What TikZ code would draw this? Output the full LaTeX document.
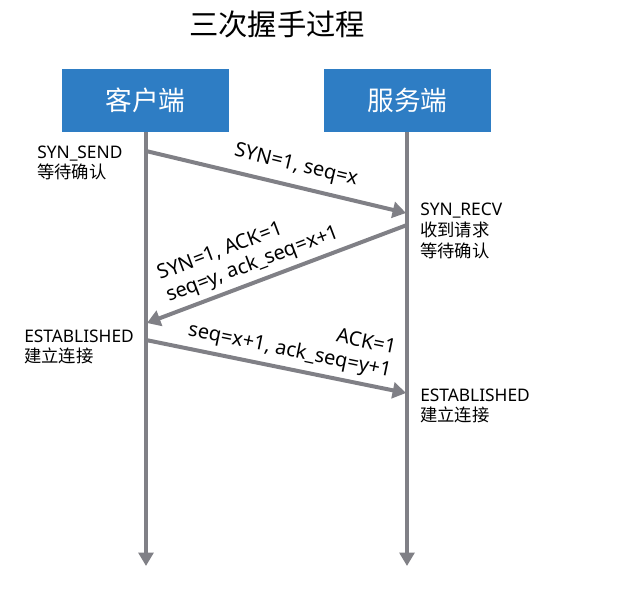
\documentclass[tikz,border=0pt]{standalone}
\usepackage{fontspec}
\setmainfont{Noto Sans}
\newfontfamily\cjk{Noto Sans CJK SC}
\usetikzlibrary{arrows.meta}
\definecolor{boxblue}{RGB}{46,125,196}
\definecolor{linegray}{RGB}{128,128,134}
\tikzset{
  hostbox/.style={fill=boxblue, text=white, minimum width=125pt, minimum height=47pt, inner sep=0pt, font=\cjk\fontsize{20}{24}\selectfont},
  lifeline/.style={draw=linegray, line width=3pt, -{Triangle[length=10pt,width=11pt]}},
  msg/.style={draw=linegray, line width=3pt, -{Triangle[length=10pt,width=12pt]}},
  statelabel/.style={anchor=west, align=left, inner sep=0pt, font=\fontsize{13}{15}\selectfont},
  msglabel/.style={inner sep=0pt, font=\fontsize{15}{17.5}\selectfont}
}
\begin{document}
\begin{tikzpicture}[x=0.75pt,y=0.75pt,yscale=-1,xscale=1]
\useasboundingbox (0,0) rectangle (640,590);

% Text Node
\draw (277,24) node (title) [font=\cjk\fontsize{22}{26}\selectfont] {三次握手过程};

%Shape: Rectangle
\draw (145.5,100.5) node (client) [hostbox] {客户端};
%Shape: Rectangle
\draw (407.5,100.5) node (server) [hostbox] {服务端};

% lifelines
\coordinate (cend) at (146,566);
\coordinate (send) at (407,566);
\draw [lifeline] (client.south -| cend) -- (cend);
\draw [lifeline] (server.south -| send) -- (send);

% message ends
\coordinate (c1) at (146,151);
\coordinate (s1) at (406,213);
\coordinate (s2) at (407,225);
\coordinate (c2) at (147,323);
\coordinate (c3) at (146,340);
\coordinate (s3) at (406,393);

\draw [msg] (c1) -- (s1);
\draw [msg] (s2) -- (c2);
\draw [msg] (c3) -- (s3);

% Text Node
\draw (37,163) node (synsend) [statelabel] {SYN\_SEND\\{\cjk 等待确认}};
% Text Node
\draw (420,231) node (synrecv) [statelabel, font=\fontsize{13}{15.5}\selectfont] {SYN\_RECV\\{\cjk 收到请求}\\{\cjk 等待确认}};
% Text Node
\draw (24,347) node (estc) [statelabel] {ESTABLISHED\\{\cjk 建立连接}};
% Text Node
\draw (420,406) node (ests) [statelabel] {ESTABLISHED\\{\cjk 建立连接}};

% Text Node
\draw (296,166) node (lab1) [msglabel, rotate=-13.5] {SYN=1, seq=x};
% Text Node
\draw (249,254) node (lab2) [msglabel, rotate=20.7, align=left] {SYN=1, ACK=1\\seq=y, ack\_seq=x+1};
% Text Node
\draw (292,340) node (lab3) [msglabel, rotate=-11.6, align=right] {ACK=1\\seq=x+1, ack\_seq=y+1};

\end{tikzpicture}
\end{document}
